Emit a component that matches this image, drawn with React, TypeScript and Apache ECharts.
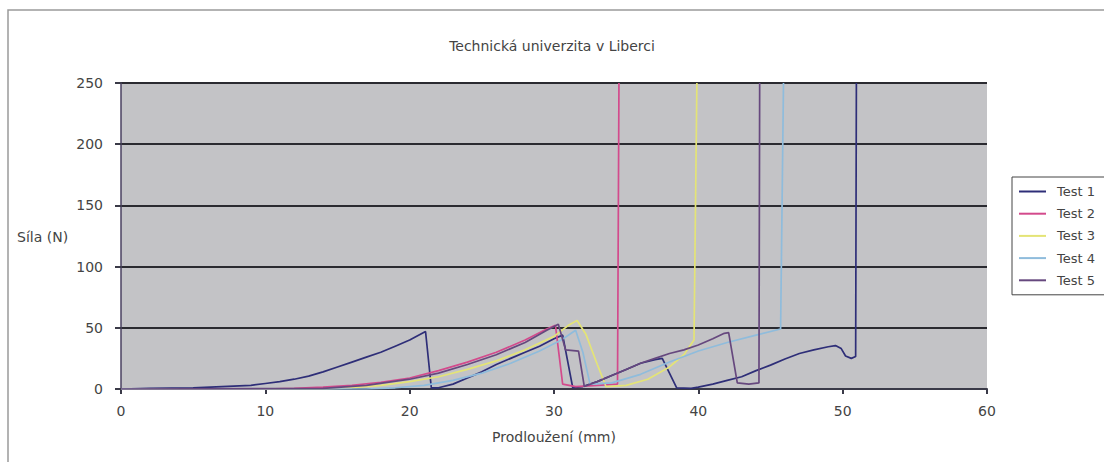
import React, { useEffect, useRef } from "react";
import * as echarts from "echarts";

// Tensile test records: elongation (mm) vs. force (N)
const seriesNames = ["Test 1", "Test 2", "Test 3", "Test 4", "Test 5"];
const seriesColors = ["#2e2e78", "#d34a8c", "#e4e476", "#8fbcdc", "#66487e"];

const test1: [number, number][] = [
  [0, 0], [2, 0.5], [5, 1], [7, 2], [9, 3], [10, 4.5], [11, 6], [12, 8], [13, 10.5],
  [14, 14], [15, 18], [16, 22], [17, 26], [18, 30], [19, 35], [20, 40], [21.1, 47],
  [21.5, 1], [22, 1], [23, 4], [24, 9], [25, 14], [26, 20], [27, 25], [28, 30],
  [29, 35], [30, 41], [30.6, 44], [31.3, 1], [32, 2], [33, 6], [34, 11], [35, 16],
  [36, 21], [37, 24], [37.5, 25], [38.5, 1], [39.5, 0.5], [40, 1.5], [41, 4], [42, 7],
  [43, 10], [44, 15], [45, 19.5], [46, 24.5], [47, 29], [48, 32], [49, 34.5],
  [49.5, 35.5], [49.9, 33], [50.2, 27], [50.6, 25], [50.9, 26.5], [50.95, 250],
];

const test2: [number, number][] = [
  [0, 0], [10, 0], [12, 0.5], [14, 1.5], [16, 3], [18, 5.5], [20, 9], [22, 15],
  [24, 22], [26, 30], [28, 40], [29.5, 49], [30.1, 52], [30.6, 4], [31.5, 2],
  [33, 3], [34.4, 4], [34.5, 250],
];

const test3: [number, number][] = [
  [0, 0], [14, 0], [16, 1], [18, 3], [20, 6], [22, 10], [24, 16], [26, 23], [28, 32],
  [30, 43], [31, 52], [31.6, 56], [32.2, 45], [33, 20], [33.6, 2], [35, 3],
  [36.5, 8], [38, 18], [39, 28], [39.7, 40], [39.9, 250],
];

const test4: [number, number][] = [
  [0, 0], [17, 0], [19, 1], [21, 3], [23, 7], [25, 13], [27, 21], [29, 31],
  [30.5, 40], [31.5, 48], [32, 30], [32.5, 4], [34, 5], [36, 12], [38, 22],
  [40, 31], [42, 38], [44, 44], [45.7, 49], [45.9, 250],
];

const test5: [number, number][] = [
  [0, 0], [14, 0.5], [17, 3], [20, 8], [22, 13], [24, 20], [26, 28], [28, 38],
  [29.5, 48], [30.3, 53], [30.8, 32], [31.7, 31], [32.1, 2], [33, 6], [34, 11],
  [35, 16], [36, 21], [37, 25], [38, 29], [39, 32], [40, 36], [41, 41], [41.8, 45.5],
  [42.1, 46], [42.7, 5], [43.5, 4], [44.2, 5], [44.25, 250],
];

const seriesData = [test1, test2, test3, test4, test5];

const FONT = "DejaVu Sans";
const TEXT = "#444";

export default function App() {
  const ref = useRef<HTMLDivElement>(null);

  useEffect(() => {
    if (!ref.current) return;
    const chart = echarts.init(ref.current, undefined, { renderer: "svg" });
    chart.setOption({
      animation: false,
      backgroundColor: "#ffffff",
      textStyle: { fontFamily: FONT },
      title: {
        text: "Technická univerzita v Liberci",
        left: "center",
        top: 34,
        textStyle: { fontFamily: FONT, fontSize: 14, fontWeight: "normal", color: TEXT },
      },
      graphic: [
        {
          type: "rect",
          shape: { x: 8, y: 10, width: 1110, height: 470 },
          style: { fill: "none", stroke: "#9a9a9a", lineWidth: 1.5 },
          silent: true,
        },
        {
          type: "text",
          x: 17,
          y: 237,
          style: {
            text: "Síla (N)",
            fontFamily: FONT,
            fontSize: 14,
            fill: TEXT,
            textVerticalAlign: "middle",
          },
        },
      ],
      legend: {
        orient: "vertical",
        left: 1012,
        top: 177,
        data: seriesNames,
        padding: [8, 40, 8, 6],
        itemGap: 9.2,
        itemWidth: 27,
        itemHeight: 14,
        borderColor: "#444",
        borderWidth: 1,
        backgroundColor: "#ffffff",
        itemStyle: { opacity: 0 },
        textStyle: { fontFamily: FONT, fontSize: 13, color: TEXT, padding: [0, 0, 0, 6] },
      },
      grid: {
        left: 121,
        right: 117,
        top: 83,
        bottom: 73,
        show: true,
        backgroundColor: "#c3c3c6",
        borderWidth: 0,
      },
      xAxis: {
        type: "value",
        min: 0,
        max: 60,
        interval: 10,
        name: "Prodloužení (mm)",
        nameLocation: "middle",
        nameGap: 41,
        nameTextStyle: { fontFamily: FONT, fontSize: 14, color: TEXT },
        axisLine: { show: true, lineStyle: { color: "#3a3a48", width: 2 } },
        axisTick: { show: true, inside: false, length: 5, lineStyle: { color: "#3a3a48", width: 2 } },
        axisLabel: { margin: 15, fontFamily: FONT, fontSize: 14, color: TEXT },
        splitLine: { show: false },
      },
      yAxis: {
        type: "value",
        min: 0,
        max: 250,
        interval: 50,
        axisLine: { show: true, lineStyle: { color: "#4a4060", width: 1.5 } },
        axisTick: { show: true, inside: false, length: 6, lineStyle: { color: "#3a3a48", width: 2 } },
        axisLabel: { margin: 18, fontFamily: FONT, fontSize: 14, color: TEXT },
        splitLine: { show: true, lineStyle: { color: "#2a2a30", width: 2 } },
      },
      series: seriesNames.map((name, i) => ({
        name,
        type: "line",
        data: seriesData[i],
        symbol: "none",
        showSymbol: false,
        smooth: false,
        clip: true,
        color: seriesColors[i],
        lineStyle: { color: seriesColors[i], width: 1.7 },
      })),
    });
    return () => chart.dispose();
  }, []);

  return (
    <div
      ref={ref}
      style={{ position: "fixed", left: 0, top: 0, width: 1104, height: 462 }}
    />
  );
}
